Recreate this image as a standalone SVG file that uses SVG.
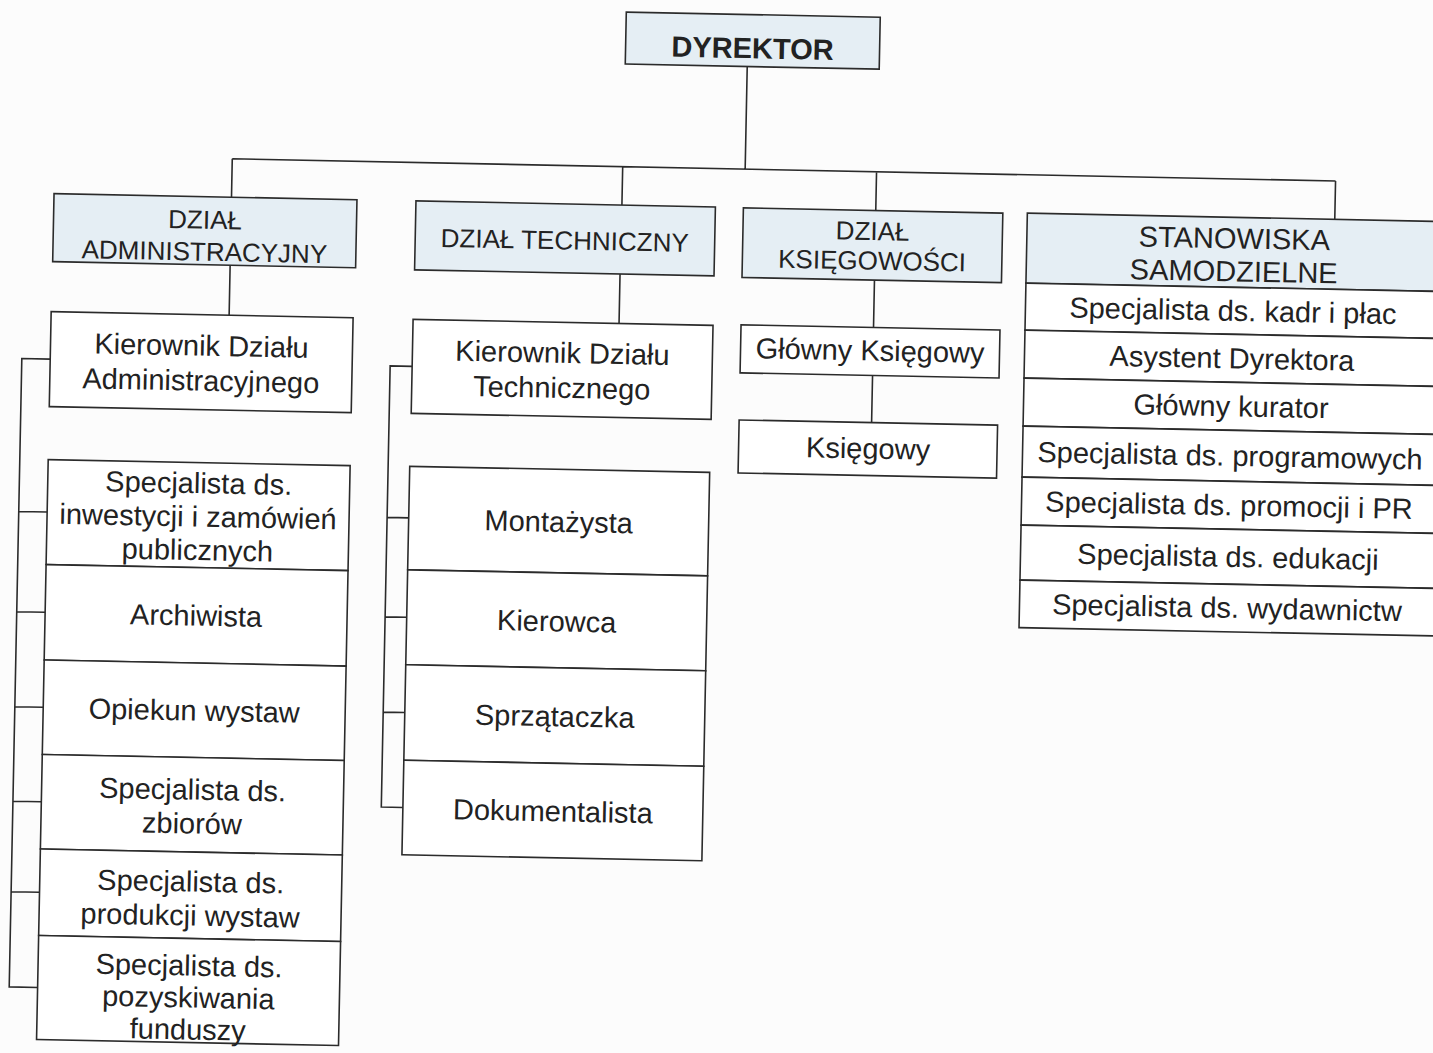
<svg xmlns="http://www.w3.org/2000/svg" width="1433" height="1053" viewBox="0 0 1433 1053">
<style>
.b{fill:#ffffff;stroke:#2b2b2b;stroke-width:1.6}
.h{fill:#e5eef4;stroke:#2b2b2b;stroke-width:1.6}
.c{fill:none;stroke:#2b2b2b;stroke-width:1.6}
text{font-family:"Liberation Sans",Arial,sans-serif;fill:#222;text-anchor:middle}
.t{font-size:29px}
.hd{font-size:26px}
.big{font-size:29px}
.dy{font-size:29px;font-weight:bold}
</style>
<rect x="0" y="0" width="1433" height="1053" fill="#fcfcfc"/>
<g transform="rotate(1.15 716 526)">
<g id="connectors">
<path class="c" d="M738 65.5V168.6M225 168.6H1328.5M225 168.6V207M615.5 168.6V207M869.4 168.6V207.4M1328.5 168.6V207"/>
<path class="c" d="M225 275V325M615 276V325.5M869.5 277V324.4M869.5 372.4V419.5"/>
<path class="c" d="M47 372.5H18.6V1001H47M18.6 525.5H47M18.6 625.75H47M18.6 720.75H47M18.6 815.25H47M18.6 905.75H47"/>
<path class="c" d="M409 372.5H387V813.75H408.6M387 524H408.6M387 623.5H408.6M387 718.75H408.6"/>
</g>
<g id="dyrektor"><rect class="h" x="616" y="14" width="254" height="52"/><text class="dy" x="743" y="57.6">DYREKTOR</text></g>
<g id="dzial-administracyjny"><rect class="h" x="47.5" y="207" width="303" height="68"/><text class="hd" x="199" y="239">DZIAŁ</text><text class="hd" x="199" y="271">ADMINISTRACYJNY</text></g>
<g id="dzial-techniczny"><rect class="h" x="409.5" y="207" width="299.5" height="69"/><text class="hd" x="559" y="252.5">DZIAŁ TECHNICZNY</text></g>
<g id="dzial-ksiegowosci"><rect class="h" x="737" y="207.4" width="259.5" height="69.6"/><text class="hd" x="866.7" y="237">DZIAŁ</text><text class="hd" x="866.7" y="266.5">KSIĘGOWOŚCI</text></g>
<g id="stanowiska-samodzielne"><rect class="h" x="1021" y="207" width="415" height="70"/><text class="big" x="1228.5" y="238">STANOWISKA</text><text class="big" x="1228.5" y="271">SAMODZIELNE</text></g>
<g id="kierownik-administracyjny"><rect class="b" x="47" y="325" width="302" height="95"/><text class="t" x="198" y="366">Kierownik Działu</text><text class="t" x="198" y="401">Administracyjnego</text></g>
<g id="kierownik-techniczny"><rect class="b" x="409" y="325.5" width="300" height="94"/><text class="t" x="559" y="366">Kierownik Działu</text><text class="t" x="559" y="401">Technicznego</text></g>
<g id="glowny-ksiegowy"><rect class="b" x="737" y="324.4" width="259" height="48"/><text class="t" x="866.5" y="357.5">Główny Księgowy</text></g>
<g id="ksiegowy"><rect class="b" x="737" y="419.5" width="258.5" height="53"/><text class="t" x="866.5" y="455.5">Księgowy</text></g>
<g id="spec-inwestycji"><rect class="b" x="47" y="473" width="302" height="105"/><text class="t" x="198" y="503.5">Specjalista ds.</text><text class="t" x="198" y="537">inwestycji i zamówień</text><text class="t" x="198" y="570.5">publicznych</text></g>
<g id="archiwista"><rect class="b" x="47" y="578" width="302" height="95.5"/><text class="t" x="198" y="636">Archiwista</text></g>
<g id="opiekun-wystaw"><rect class="b" x="47" y="673.5" width="302" height="94.5"/><text class="t" x="198" y="731">Opiekun wystaw</text></g>
<g id="spec-zbiorow"><rect class="b" x="47" y="768" width="302" height="94.5"/><text class="t" x="198" y="810">Specjalista ds.</text><text class="t" x="198" y="844">zbiorów</text></g>
<g id="spec-produkcji"><rect class="b" x="47" y="862.5" width="302" height="86.5"/><text class="t" x="198" y="902">Specjalista ds.</text><text class="t" x="198" y="936">produkcji wystaw</text></g>
<g id="spec-pozyskiwania"><rect class="b" x="47" y="949" width="302" height="104"/><text class="t" x="198" y="986">Specjalista ds.</text><text class="t" x="198" y="1018">pozyskiwania</text><text class="t" x="198" y="1050">funduszy</text></g>
<g id="montazysta"><rect class="b" x="408.6" y="472.5" width="300" height="103.5"/><text class="t" x="558.6" y="535">Montażysta</text></g>
<g id="kierowca"><rect class="b" x="408.6" y="576" width="300" height="95"/><text class="t" x="558.6" y="634.5">Kierowca</text></g>
<g id="sprzataczka"><rect class="b" x="408.6" y="671" width="300" height="95.5"/><text class="t" x="558.6" y="729.5">Sprzątaczka</text></g>
<g id="dokumentalista"><rect class="b" x="408.6" y="766.5" width="300" height="94.5"/><text class="t" x="558.6" y="824.5">Dokumentalista</text></g>
<g id="spec-kadr"><rect class="b" x="1021" y="277" width="415" height="47"/><text class="t" x="1228.5" y="310.5">Specjalista ds. kadr i płac</text></g>
<g id="asystent-dyrektora"><rect class="b" x="1021" y="324" width="415" height="48"/><text class="t" x="1228.5" y="358">Asystent Dyrektora</text></g>
<g id="glowny-kurator"><rect class="b" x="1021" y="372" width="415" height="48"/><text class="t" x="1228.5" y="406">Główny kurator</text></g>
<g id="spec-programowych"><rect class="b" x="1021" y="420" width="415" height="51"/><text class="t" x="1228.5" y="455.5">Specjalista ds. programowych</text></g>
<g id="spec-promocji"><rect class="b" x="1021" y="471" width="415" height="48"/><text class="t" x="1228.5" y="505">Specjalista ds. promocji i PR</text></g>
<g id="spec-edukacji"><rect class="b" x="1021" y="519" width="415" height="55"/><text class="t" x="1228.5" y="556.5">Specjalista ds. edukacji</text></g>
<g id="spec-wydawnictw"><rect class="b" x="1021" y="574" width="415" height="47.5"/><text class="t" x="1228.5" y="607.5">Specjalista ds. wydawnictw</text></g>
</g>
</svg>
